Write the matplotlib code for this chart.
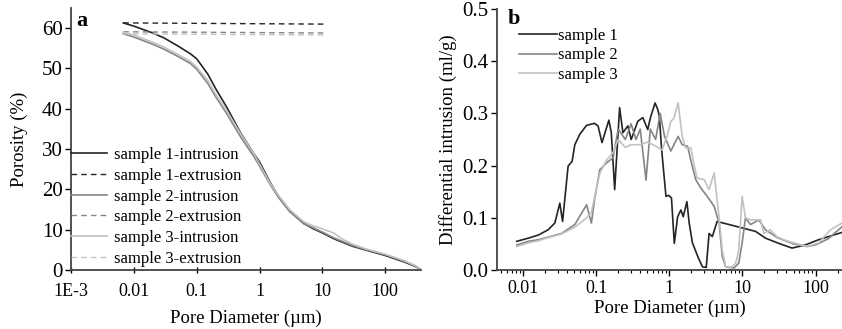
import matplotlib
matplotlib.use("Agg")
import matplotlib.pyplot as plt
import numpy as np
from matplotlib.ticker import LogLocator, FixedLocator, NullFormatter

plt.rcParams['font.family'] = ['Liberation Serif', 'DejaVu Serif']

# ---- panel a: cumulative porosity (%) vs pore diameter (um)
d_int = [0.0068, 0.01, 0.02, 0.03, 0.05, 0.08, 0.1, 0.15, 0.2, 0.3, 0.5, 0.8, 1, 1.5, 2, 3, 5, 7, 10, 15, 20, 30, 50, 100, 200, 300, 370]
s1_int = [61.3, 60.5, 58.8, 57.6, 55.6, 53.6, 52.4, 48.6, 45.0, 40.4, 34.0, 29.0, 26.8, 21.5, 18.3, 14.8, 11.6, 10.3, 9.2, 7.8, 7.0, 5.9, 4.9, 3.6, 2.0, 0.9, 0.1]
s2_int = [58.6, 57.8, 56.0, 54.8, 53.0, 51.2, 49.8, 46.3, 43.0, 38.8, 33.0, 28.3, 25.8, 21.0, 18.0, 14.5, 11.5, 10.5, 9.4, 8.0, 7.2, 6.1, 5.0, 3.8, 2.2, 1.0, 0.1]
s3_int = [59.0, 58.3, 56.5, 55.3, 53.5, 51.7, 50.3, 47.0, 43.6, 39.5, 33.8, 29.0, 26.3, 21.3, 18.5, 15.0, 12.0, 11.0, 10.2, 9.2, 7.8, 6.4, 5.2, 3.9, 2.3, 1.1, 0.1]
d_ext = [0.0068, 11]
s1_ext = [61.3, 61.0]
s2_ext = [59.1, 58.8]
s3_ext = [58.6, 58.3]

# ---- panel b: differential intrusion (ml/g)
d_b1 = [0.0082, 0.0118, 0.0162, 0.022, 0.0272, 0.0318, 0.0347, 0.0413, 0.0468, 0.051, 0.0597, 0.0736, 0.095, 0.106, 0.12,
        0.149, 0.161, 0.179, 0.209, 0.232, 0.271, 0.301, 0.371, 0.434, 0.507, 0.552, 0.638, 0.693, 0.73, 0.785, 0.90,
        0.98, 1.07, 1.17, 1.30, 1.44, 1.55, 1.74, 1.87, 2.07, 2.5, 2.84, 3.2, 3.5, 3.88, 4.5, 15.1, 20.7, 31.4, 47.7,
        72.4, 110, 230]
s1_b = [0.055, 0.061, 0.067, 0.077, 0.090, 0.128, 0.093, 0.199, 0.208, 0.240, 0.260, 0.277, 0.281, 0.276, 0.244,
        0.287, 0.263, 0.154, 0.311, 0.263, 0.276, 0.250, 0.285, 0.292, 0.269, 0.292, 0.320, 0.308, 0.295, 0.231, 0.141,
        0.143, 0.138, 0.051, 0.102, 0.115, 0.102, 0.131, 0.090, 0.052, 0.023, 0.006, 0.005, 0.070, 0.064, 0.093, 0.074,
        0.061, 0.051, 0.042, 0.048, 0.058, 0.072]
d_b2 = [0.0082, 0.0118, 0.0162, 0.022, 0.0336, 0.051, 0.074, 0.086, 0.095, 0.112, 0.138, 0.17, 0.2, 0.25, 0.3, 0.35,
        0.4, 0.48, 0.55, 0.65, 0.75, 0.86, 1.05, 1.32, 1.5, 1.78, 1.97, 2.3, 2.7, 3.3, 4.1, 4.8, 5.3, 5.9, 7.7, 8.9,
        9.9, 11, 12.9, 16.7, 20.7, 30, 50, 77, 100, 150, 230]
s2_b = [0.048, 0.055, 0.058, 0.063, 0.070, 0.087, 0.125, 0.090, 0.135, 0.192, 0.205, 0.215, 0.270, 0.250, 0.280, 0.250,
        0.270, 0.172, 0.270, 0.250, 0.300, 0.256, 0.228, 0.256, 0.240, 0.237, 0.210, 0.173, 0.157, 0.141, 0.122, 0.090,
        0.026, 0.006, 0.004, 0.013, 0.051, 0.100, 0.087, 0.096, 0.077, 0.062, 0.050, 0.045, 0.048, 0.060, 0.083]
d_b3 = [0.0082, 0.0118, 0.0162, 0.022, 0.0336, 0.051, 0.074, 0.086, 0.095, 0.112, 0.138, 0.17, 0.2, 0.25, 0.3, 0.4,
        0.5, 0.6, 0.8, 0.95, 1.05, 1.15, 1.32, 1.5, 1.67, 1.97, 2.2, 2.4, 3.0, 3.5, 4.1, 4.8, 5.3, 5.9, 6.9, 8.1, 8.9,
        9.9, 11, 12.9, 17.7, 19.6, 24, 29.5, 36.7, 50, 77, 110, 160, 230]
s3_b = [0.045, 0.052, 0.056, 0.062, 0.069, 0.082, 0.100, 0.110, 0.140, 0.185, 0.210, 0.225, 0.250, 0.235, 0.240, 0.240,
        0.245, 0.240, 0.230, 0.260, 0.285, 0.290, 0.320, 0.256, 0.234, 0.234, 0.199, 0.176, 0.173, 0.154, 0.186, 0.100,
        0.038, 0.006, 0.004, 0.013, 0.038, 0.141, 0.100, 0.096, 0.096, 0.070, 0.077, 0.064, 0.058, 0.052, 0.045, 0.052,
        0.077, 0.090]

c1, c2, c3 = '#242424', '#858585', '#c2c2c2'

fig = plt.figure(figsize=(8.42, 3.29), dpi=100)

# panel a
ax1 = fig.add_axes([71/842, 59/329, 350/842, 262/329])
ax1.plot(d_int, s1_int, color=c1, lw=1.2, label='sample 1-intrusion')
ax1.plot(d_ext, s1_ext, color=c1, lw=1.0, ls=(0, (4, 3)), label='sample 1-extrusion')
ax1.plot(d_int, s2_int, color=c2, lw=1.2, label='sample 2-intrusion')
ax1.plot(d_ext, s2_ext, color=c2, lw=1.0, ls=(0, (4, 3)), label='sample 2-extrusion')
ax1.plot(d_int, s3_int, color=c3, lw=1.2, label='sample 3-intrusion')
ax1.plot(d_ext, s3_ext, color=c3, lw=1.0, ls=(0, (4, 3)), label='sample 3-extrusion')
ax1.set_xscale('log')
ax1.set_xlim(1e-3, 370)
ax1.set_ylim(0, 65)
ax1.set_yticks([0, 10, 20, 30, 40, 50, 60])
ax1.xaxis.set_major_locator(FixedLocator([1e-3, 1e-2, 1e-1, 1, 10, 100]))
ax1.xaxis.set_minor_locator(FixedLocator([]))
ax1.set_xticklabels(['1E-3', '0.01', '0.1', '1', '10', '100'])
ax1.tick_params(axis='x', direction='inout', length=5, width=1, labelsize=13, pad=7)
ax1.tick_params(axis='y', direction='out', length=4, width=1, labelsize=15, pad=2)
ax1.set_xlabel('Pore Diameter (µm)', fontsize=13.5, labelpad=7)
ax1.set_ylabel('Porosity (%)', fontsize=13.5, labelpad=10)
ax1.text(0.015, 0.99, 'a', transform=ax1.transAxes, fontsize=16, fontweight='bold', va='top')
ax1.legend(loc='lower left', bbox_to_anchor=(-0.03, -0.025), frameon=False, fontsize=12,
           handlelength=2.2, handletextpad=0.4, labelspacing=0.28, borderaxespad=0.2)

# panel b
ax2 = fig.add_axes([497/842, 59/329, 345/842, 261/329])
ax2.plot(d_b1, s1_b, color=c1, lw=1.2, label='sample 1')
ax2.plot(d_b2, s2_b, color=c2, lw=1.2, label='sample 2')
ax2.plot(d_b3, s3_b, color=c3, lw=1.2, label='sample 3')
ax2.set_xscale('log')
ax2.set_xlim(0.0044, 230)
ax2.set_ylim(0, 0.5)
ax2.set_yticks([0.0, 0.1, 0.2, 0.3, 0.4, 0.5])
ax2.set_yticklabels(['0.0', '0.1', '0.2', '0.3', '0.4', '0.5'])
ax2.xaxis.set_major_locator(FixedLocator([0.01, 0.1, 1, 10, 100]))
ax2.set_xticklabels(['0.01', '0.1', '1', '10', '100'])
ax2.xaxis.set_minor_locator(LogLocator(base=10, subs=np.arange(2, 10), numticks=20))
ax2.xaxis.set_minor_formatter(NullFormatter())
ax2.tick_params(axis='x', which='major', direction='out', length=4, width=1, labelsize=13, pad=3)
ax2.tick_params(axis='x', which='minor', direction='out', length=2, width=0.8)
ax2.tick_params(axis='y', direction='out', length=4, width=1, labelsize=15, pad=2)
ax2.set_xlabel('Pore Diameter (µm)', fontsize=13.5, labelpad=2)
ax2.set_ylabel('Differential intrusion (ml/g)', fontsize=13.5, labelpad=4)
ax2.text(0.03, 1.0, 'b', transform=ax2.transAxes, fontsize=16, fontweight='bold', va='top')
ax2.legend(loc='upper left', bbox_to_anchor=(0.035, 0.965), frameon=False, fontsize=12,
           handlelength=2.3, handletextpad=0.05, labelspacing=0.2, borderaxespad=0.2)

for ax in (ax1, ax2):
    ax.spines['top'].set_visible(False)
    ax.spines['right'].set_visible(False)
    ax.spines['left'].set_color('#444444')
    ax.spines['bottom'].set_color('#444444')
    ax.spines['left'].set_linewidth(1.3)
    ax.spines['bottom'].set_linewidth(1.3)

fig.savefig('out.png', dpi=100)
